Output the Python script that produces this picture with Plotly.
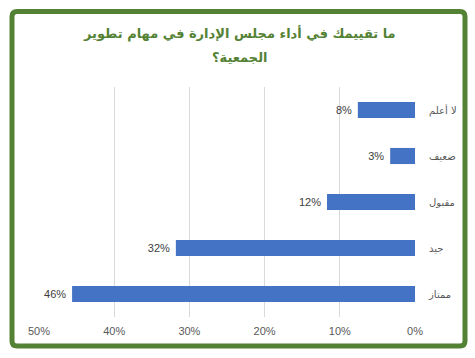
import plotly.graph_objects as go

categories = ["لا أعلم", "ضعيف", "مقبول", "جيد", "ممتاز"]
values = [0.076, 0.033, 0.117, 0.318, 0.456]
tick_vals = [0, 0.1, 0.2, 0.3, 0.4, 0.5]
tick_text = ["0%", "10%", "20%", "30%", "40%", "50%"]
title_lines = ["ما تقييمك في أداء مجلس الإدارة في مهام تطوير", "الجمعية؟"]

W, H = 475, 358
ml, mr, mt, mb = 39, 60, 87, 41
pw, ph = W - ml - mr, H - mt - mb

def px_x(p):
    return (p - ml) / pw

def px_y(p):
    return (H - mb - p) / ph

def rounded_rect(x0, y0, x1, y1, r):
    pts = [
        f"M {px_x(x0 + r)},{px_y(y0)}",
        f"L {px_x(x1 - r)},{px_y(y0)}",
        f"Q {px_x(x1)},{px_y(y0)} {px_x(x1)},{px_y(y0 + r)}",
        f"L {px_x(x1)},{px_y(y1 - r)}",
        f"Q {px_x(x1)},{px_y(y1)} {px_x(x1 - r)},{px_y(y1)}",
        f"L {px_x(x0 + r)},{px_y(y1)}",
        f"Q {px_x(x0)},{px_y(y1)} {px_x(x0)},{px_y(y1 - r)}",
        f"L {px_x(x0)},{px_y(y0 + r)}",
        f"Q {px_x(x0)},{px_y(y0)} {px_x(x0 + r)},{px_y(y0)} Z",
    ]
    return " ".join(pts)

fig = go.Figure()
fig.add_trace(go.Bar(
    x=values, y=categories, orientation="h",
    marker=dict(color="#4472C4", line=dict(width=0)),
    text=[f"{round(v*100)}%\u00a0" for v in values],
    textposition="outside",
    textfont=dict(family="Liberation Sans, Arial", size=11, color="#404040"),
    cliponaxis=False, hoverinfo="skip",
))

annotations = []
for i, line in enumerate(title_lines):
    annotations.append(dict(
        text=line, xref="paper", yref="paper",
        x=px_x(240), y=px_y(33 + 24 * i), xanchor="center", yanchor="middle",
        showarrow=False,
        font=dict(family="DejaVu Sans, Arial", size=13, color="#548235", weight="bold"),
    ))

fig.update_layout(
    width=W, height=H,
    margin=dict(l=ml, r=mr, t=mt, b=mb),
    paper_bgcolor="white", plot_bgcolor="white",
    showlegend=False,
    bargap=0.65,
    annotations=annotations,
    xaxis=dict(range=[0.5, 0], tickvals=tick_vals, ticktext=tick_text,
               showgrid=True, gridcolor="#D9D9D9", gridwidth=1, zeroline=False,
               showline=False, ticks="outside", ticklen=4, tickcolor="rgba(0,0,0,0)",
               automargin=False,
               tickfont=dict(family="Liberation Sans, Arial", size=11, color="#595959")),
    yaxis=dict(categoryorder="array", categoryarray=categories, autorange="reversed",
               side="right", showgrid=False, zeroline=False, showline=False,
               ticks="outside", ticklen=11, tickcolor="rgba(0,0,0,0)", automargin=False,
               tickfont=dict(family="DejaVu Sans, Arial", size=10, color="#595959")),
    shapes=[dict(type="path", xref="paper", yref="paper",
                 path=rounded_rect(12, 11.5, 465, 346, 5),
                 line=dict(color="#548235", width=5), fillcolor="rgba(0,0,0,0)",
                 layer="below")],
)

fig.write_html("out.html", config={"displayModeBar": False},
               post_script="document.body.style.margin='0px';")
